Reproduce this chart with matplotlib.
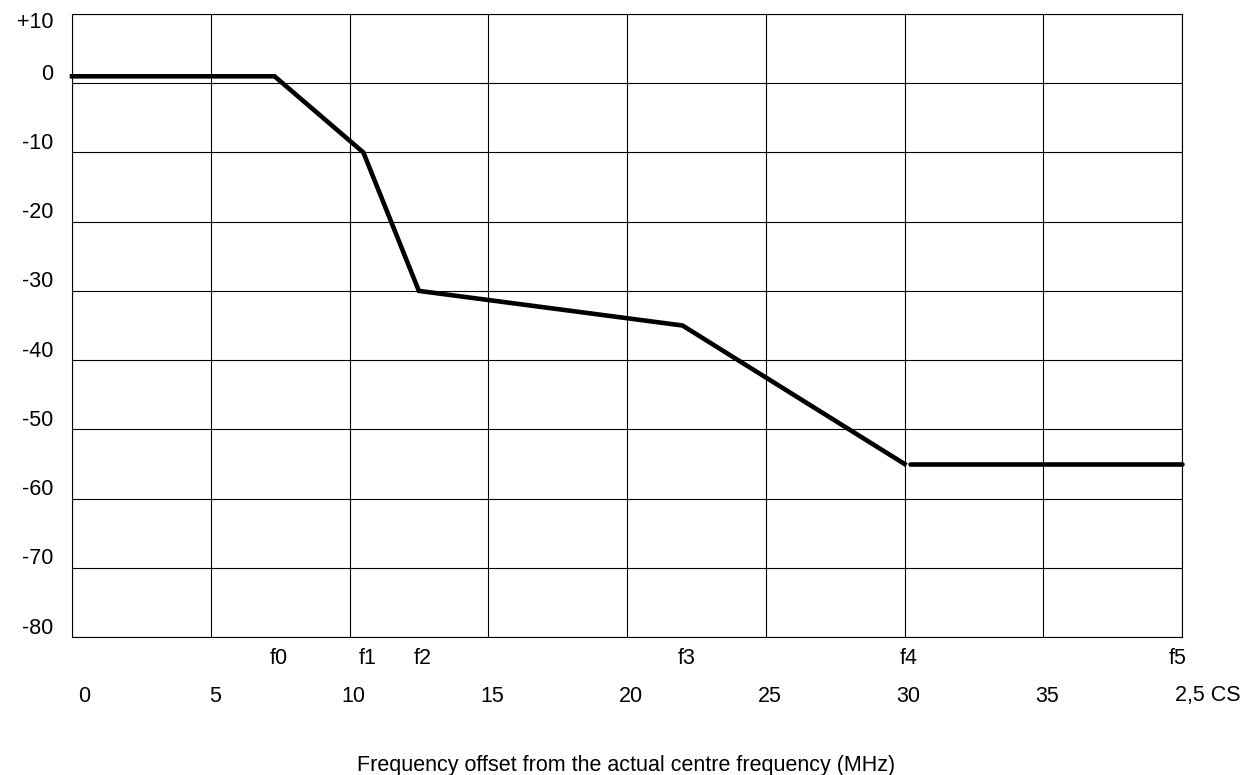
import matplotlib.pyplot as plt
import matplotlib.transforms as mtransforms

plt.rcParams['font.family'] = ['Liberation Sans', 'DejaVu Sans']
plt.rcParams['font.size'] = 15.5

# mask curve (frequency offset in MHz, attenuation in dB)
mask_x = [0, 7.3, 10.5, 12.5, 22, 30]
mask_y = [1, 1, -10, -30, -35, -55]
tail_x = [30.2, 40]
tail_y = [-55, -55]

y_ticks = [10, 0, -10, -20, -30, -40, -50, -60, -70, -80]
y_labels = ["+10", "0", "-10", "-20", "-30", "-40", "-50", "-60", "-70", "-80"]

f_pos = [7.3, 10.5, 12.5, 22, 30, 40]
f_labels = ["f0", "f1", "f2", "f3", "f4", "f5"]

x_ticks = [0, 5, 10, 15, 20, 25, 30, 35, 40]
x_labels = ["0", "5", "10", "15", "20", "25", "30", "35", "2,5 CS"]

fig = plt.figure(figsize=(12.51, 7.75), dpi=100)
W, H = 1251, 775
ax = fig.add_axes([72 / W, 1 - 637 / H, (1182 - 72) / W, (637 - 14) / H])

ax.set_xlim(0, 40)
ax.set_ylim(-80, 10)
for x in x_ticks:
    ax.axvline(x, color="black", linewidth=0.8)
for y in y_ticks:
    ax.axhline(y, color="black", linewidth=0.8)
for s in ax.spines.values():
    s.set_linewidth(0.8)
ax.set_xticks([])
ax.set_yticks([])

ax.plot(mask_x, mask_y, color="black", linewidth=3.3, clip_on=False, solid_joinstyle="miter")
ax.plot(tail_x, tail_y, color="black", linewidth=3.3, clip_on=False, solid_capstyle="round")

# y labels sit a little above their grid lines (top one below)
blend = mtransforms.blended_transform_factory(ax.transAxes, ax.transData)
for y, lab in zip(y_ticks, y_labels):
    dy = -8 if y == 10 else 9
    off = mtransforms.ScaledTranslation(0, dy / 100, fig.dpi_scale_trans)
    ax.text(-19 / (1182 - 72), y, lab, transform=blend + off, ha="right", va="center")

# f labels row
blend_x = mtransforms.blended_transform_factory(ax.transData, fig.transFigure)
for x, lab in zip(f_pos, f_labels):
    dx = -4 if lab == "f5" else 4
    off = mtransforms.ScaledTranslation(dx / 100, 0, fig.dpi_scale_trans)
    ax.text(x, 1 - 659 / H, lab, transform=blend_x + off, ha="center", va="center")

# numeric row
for x, lab in zip(x_ticks, x_labels):
    if lab == "2,5 CS":
        off = mtransforms.ScaledTranslation(-7 / 100, 0, fig.dpi_scale_trans)
        ax.text(x, 1 - 695 / H, lab, transform=blend_x + off, ha="left", va="center")
    else:
        dx = 12 if x == 0 else 4
        off = mtransforms.ScaledTranslation(dx / 100, 0, fig.dpi_scale_trans)
        ax.text(x, 1 - 697 / H, lab, transform=blend_x + off, ha="center", va="center")

fig.text(626 / W, 1 - 766 / H, "Frequency offset from the actual centre frequency (MHz)",
         ha="center", va="center")

fig.savefig("out.png", dpi=100)
